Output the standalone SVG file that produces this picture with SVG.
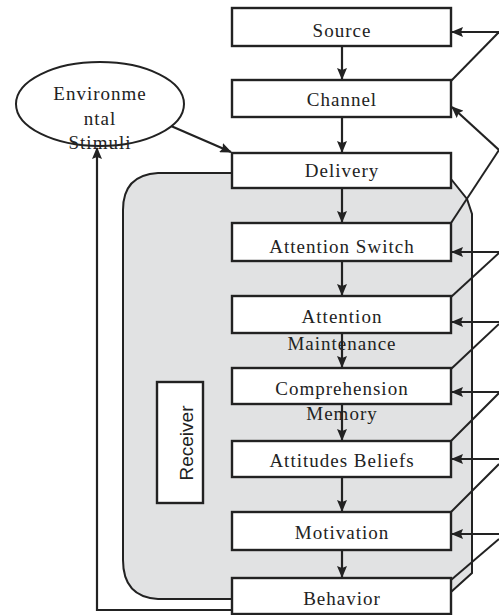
<svg xmlns="http://www.w3.org/2000/svg" width="499" height="615" viewBox="0 0 499 615">
  <style>
    .box { fill: #ffffff; stroke: #222222; stroke-width: 2.4; }
    .lbl { font-family: "Liberation Serif", "Times New Roman", serif; font-size: 19px; letter-spacing: 1px; fill: #222222; text-anchor: middle; }
    .edge { fill: none; stroke: #222222; stroke-width: 2; }
    .arr { fill: none; stroke: #222222; stroke-width: 2.2; marker-end: url(#ah); }
    .zone { fill: #e1e2e3; stroke: none; }
    .zoneEdge { fill: none; stroke: #222222; stroke-width: 2; }
  </style>
  <defs>
    <marker id="ah" viewBox="0 0 12 10" refX="11" refY="5" markerWidth="12" markerHeight="10" markerUnits="userSpaceOnUse" orient="auto">
      <path d="M0,0 L12,5 L0,10 L2,5 z" fill="#222222"/>
    </marker>
  </defs>

  <rect width="499" height="615" fill="#ffffff"/>

  <!-- receiver zone -->
  <g id="receiver-zone">
    <path class="zone" d="M158,173 H451 V180 L468,200 L472,215 V573 L451,592 V599 H158 Q123,597 123,560 V210 Q123,175 158,173 Z"/>
    <path class="zoneEdge" d="M232,173 H158 Q123,175 123,210 V560 Q123,597 158,599 H232"/>
    <path class="zoneEdge" d="M451,179 L467,199 L472,214 V573 L451,592"/>
  </g>

  <!-- connectors -->
  <g id="connectors">
    <!-- main chain -->
    <line class="arr" x1="342" y1="47" x2="342" y2="79"/>
    <line class="arr" x1="342" y1="118" x2="342" y2="152"/>
    <line class="arr" x1="342" y1="189" x2="342" y2="222"/>
    <line class="arr" x1="342" y1="262" x2="342" y2="295"/>
    <line class="arr" x1="342" y1="334" x2="342" y2="367"/>
    <line class="arr" x1="342" y1="405" x2="342" y2="440"/>
    <line class="arr" x1="342" y1="478" x2="342" y2="511"/>
    <line class="arr" x1="342" y1="551" x2="342" y2="577"/>

    <!-- environment into delivery -->
    <line class="arr" x1="171" y1="126" x2="231" y2="152"/>

    <!-- behavior back to environment -->
    <polyline class="arr" points="232,610 97,610 97,148"/>

    <!-- feedback on the right -->
    <line class="arr" x1="499" y1="32" x2="452" y2="32"/>
    <line class="edge" x1="451" y1="81" x2="499" y2="32"/>

    <line class="arr" x1="499" y1="150" x2="452" y2="107"/>
    <line class="edge" x1="451" y1="223" x2="499" y2="150"/>

    <line class="arr" x1="499" y1="252" x2="452" y2="252"/>
    <line class="edge" x1="451" y1="297" x2="499" y2="253"/>

    <line class="arr" x1="499" y1="322" x2="452" y2="322"/>
    <line class="edge" x1="451" y1="369" x2="499" y2="324"/>

    <line class="arr" x1="499" y1="392" x2="452" y2="392"/>
    <line class="edge" x1="451" y1="441" x2="499" y2="393"/>

    <line class="arr" x1="499" y1="459" x2="452" y2="459"/>
    <line class="edge" x1="451" y1="512" x2="499" y2="464"/>

    <line class="arr" x1="499" y1="534" x2="452" y2="534"/>
    <line class="edge" x1="451" y1="580" x2="499" y2="539"/>
  </g>

  <g id="environmental-stimuli">
    <ellipse cx="100" cy="104" rx="84" ry="42" fill="#ffffff" stroke="#222222" stroke-width="2"/>
    <text class="lbl" x="100" y="100">Environme</text>
    <text class="lbl" x="100" y="125">ntal</text>
    <text class="lbl" x="100" y="149">Stimuli</text>
  </g>

  <g id="source">
    <rect class="box" x="232" y="8" width="219" height="38"/>
    <text class="lbl" x="342" y="37">Source</text>
  </g>
  <g id="channel">
    <rect class="box" x="232" y="80" width="219" height="37"/>
    <text class="lbl" x="342" y="106">Channel</text>
  </g>
  <g id="delivery">
    <rect class="box" x="232" y="153" width="219" height="35"/>
    <text class="lbl" x="342" y="177">Delivery</text>
  </g>
  <g id="attention-switch">
    <rect class="box" x="232" y="223" width="219" height="38"/>
    <text class="lbl" x="342" y="253">Attention Switch</text>
  </g>
  <g id="attention-maintenance">
    <rect class="box" x="232" y="296" width="219" height="37"/>
    <text class="lbl" x="342" y="323">Attention</text>
    <text class="lbl" x="342" y="350">Maintenance</text>
  </g>
  <g id="comprehension-memory">
    <rect class="box" x="232" y="368" width="219" height="36"/>
    <text class="lbl" x="342" y="395">Comprehension</text>
    <text class="lbl" x="342" y="420">Memory</text>
  </g>
  <g id="attitudes-beliefs">
    <rect class="box" x="232" y="441" width="219" height="36"/>
    <text class="lbl" x="342" y="467">Attitudes Beliefs</text>
  </g>
  <g id="motivation">
    <rect class="box" x="232" y="512" width="219" height="38"/>
    <text class="lbl" x="342" y="539">Motivation</text>
  </g>
  <g id="behavior">
    <rect class="box" x="232" y="578" width="219" height="36"/>
    <text class="lbl" x="342" y="605">Behavior</text>
  </g>

  <g id="receiver">
    <rect class="box" x="157" y="382" width="46" height="121"/>
    <text x="193" y="443" transform="rotate(-90 193 443)" font-family="Liberation Sans, Arial, sans-serif" font-size="19" fill="#222222" text-anchor="middle">Receiver</text>
  </g>
</svg>
